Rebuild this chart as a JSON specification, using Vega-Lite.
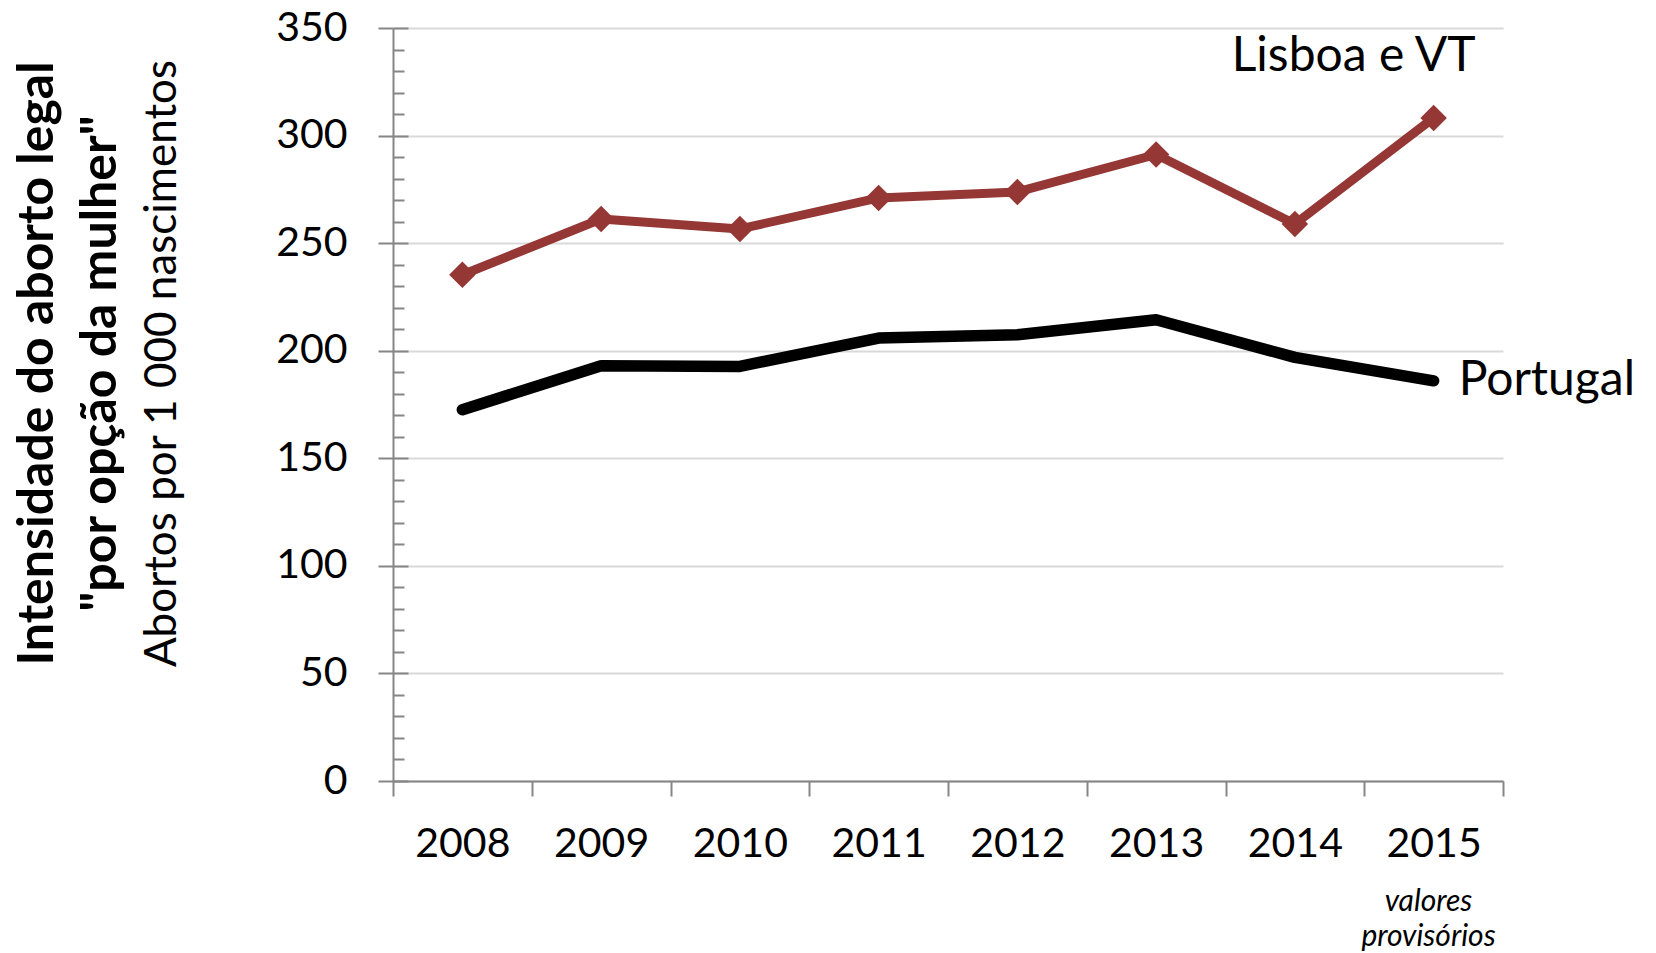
{
  "$schema": "https://vega.github.io/schema/vega-lite/v6.json",
  "autosize": {"type": "none"},
  "width": 1110,
  "height": 753,
  "padding": {"left": 393, "top": 28, "right": 153, "bottom": 172},
  "background": "white",
  "config": {
    "font": "Lato",
    "view": {"stroke": null},
    "axis": {"labelColor": "black", "titleColor": "black", "domainColor": "#868686", "tickColor": "#868686", "domainWidth": 2, "tickWidth": 2}
  },
  "datasets": {
    "series": [
      {"year": 2008, "series": "Lisboa e VT", "value": 235.3},
      {"year": 2009, "series": "Lisboa e VT", "value": 261.2},
      {"year": 2010, "series": "Lisboa e VT", "value": 256.6},
      {"year": 2011, "series": "Lisboa e VT", "value": 271.0},
      {"year": 2012, "series": "Lisboa e VT", "value": 273.8},
      {"year": 2013, "series": "Lisboa e VT", "value": 291.2},
      {"year": 2014, "series": "Lisboa e VT", "value": 258.9},
      {"year": 2015, "series": "Lisboa e VT", "value": 308.2},
      {"year": 2008, "series": "Portugal", "value": 172.6},
      {"year": 2009, "series": "Portugal", "value": 193.0},
      {"year": 2010, "series": "Portugal", "value": 192.7},
      {"year": 2011, "series": "Portugal", "value": 205.9},
      {"year": 2012, "series": "Portugal", "value": 207.4},
      {"year": 2013, "series": "Portugal", "value": 214.4},
      {"year": 2014, "series": "Portugal", "value": 196.9},
      {"year": 2015, "series": "Portugal", "value": 186.0}
    ],
    "labels": [
      {"year": 2015, "label": "Lisboa e VT", "value": 330},
      {"year": 2015, "label": "Portugal", "value": 186.0}
    ]
  },
  "data": {"name": "series"},
  "encoding": {
    "x": {
      "field": "year", "type": "ordinal",
      "scale": {"type": "band", "paddingInner": 0, "paddingOuter": 0},
      "axis": {
        "labelFontSize": 41, "labelAngle": 0, "labelPadding": 28, "tickSize": 15, "tickBand": "extent", "grid": false,
        "title": ["valores", "provisórios"], "titleFontSize": 30, "titleFontStyle": "italic", "titleFontWeight": "normal",
        "titleLineHeight": 35, "titleX": 1035, "titleY": 129, "titleAlign": "center", "titleBaseline": "alphabetic", "titleAngle": 0
      }
    }
  },
  "layer": [
    {
      "mark": {"type": "line", "strokeCap": "round", "strokeJoin": "round"},
      "encoding": {
        "y": {
          "field": "value", "type": "quantitative",
          "scale": {"domain": [0, 350], "nice": false},
          "axis": {
            "orient": "left", "values": [0, 50, 100, 150, 200, 250, 300, 350],
            "labelFontSize": 41, "labelPadding": 31, "tickSize": 15,
            "grid": true, "gridColor": "#d9d9d9", "gridWidth": 2,
            "title": "Abortos por 1 000 nascimentos", "titleFontSize": 44, "titleFontWeight": "normal",
            "titleX": -218, "titleY": 335, "titleAngle": 270, "titleAlign": "center", "titleBaseline": "alphabetic"
          }
        },
        "color": {"field": "series", "type": "nominal", "scale": {"domain": ["Lisboa e VT", "Portugal"], "range": ["#953735", "#000000"]}, "legend": null},
        "strokeWidth": {"field": "series", "type": "nominal", "scale": {"domain": ["Lisboa e VT", "Portugal"], "range": [9, 11.5]}, "legend": null}
      }
    },
    {
      "transform": [{"filter": "datum.series === 'Lisboa e VT'"}],
      "mark": {"type": "point", "shape": "diamond", "filled": true, "opacity": 1, "size": 700, "color": "#953735"},
      "encoding": {
        "y": {
          "field": "value", "type": "quantitative",
          "scale": {"domain": [0, 350], "nice": false},
          "axis": {
            "orient": "left", "values": [10, 20, 30, 40, 60, 70, 80, 90, 110, 120, 130, 140, 160, 170, 180, 190, 210, 220, 230, 240, 260, 270, 280, 290, 310, 320, 330, 340],
            "labels": false, "domain": false, "grid": false, "tickSize": -11,
            "title": ["Intensidade do aborto legal", "\"por opção da mulher\""], "titleFontSize": 50, "titleFontWeight": "bold",
            "titleLineHeight": 63, "titleX": -341, "titleY": 335, "titleAngle": 270, "titleAlign": "center", "titleBaseline": "alphabetic"
          }
        }
      }
    },
    {
      "data": {"name": "labels"},
      "transform": [{"filter": "datum.label === 'Lisboa e VT'"}],
      "mark": {"type": "text", "align": "right", "baseline": "alphabetic", "dx": 42, "fontSize": 48, "color": "black"},
      "encoding": {
        "text": {"field": "label"},
        "y": {
          "field": "value", "type": "quantitative",
          "scale": {"domain": [0, 350], "nice": false},
          "axis": {
            "orient": "left", "values": [0, 50, 100, 150, 200, 250, 300, 350],
            "labels": false, "domain": false, "grid": false, "tickSize": -15, "title": null
          }
        }
      }
    },
    {
      "data": {"name": "labels"},
      "transform": [{"filter": "datum.label === 'Portugal'"}],
      "mark": {"type": "text", "align": "left", "baseline": "middle", "dx": 25, "fontSize": 48, "color": "black"},
      "encoding": {
        "text": {"field": "label"},
        "y": {
          "field": "value", "type": "quantitative",
          "scale": {"domain": [0, 350], "nice": false},
          "axis": null
        }
      }
    }
  ],
  "resolve": {"scale": {"y": "independent"}}
}
